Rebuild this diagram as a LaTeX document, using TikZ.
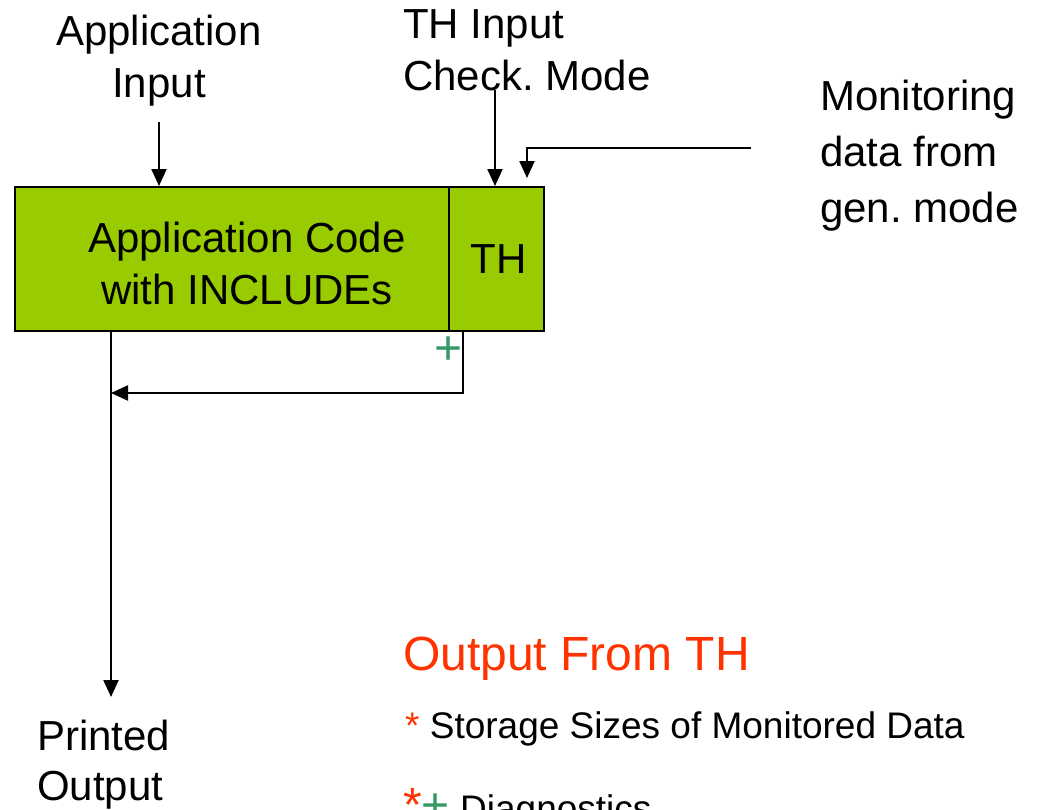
\documentclass[tikz,border=0pt]{standalone}
\usepackage{fontspec}
\setmainfont{Liberation Sans}
\usetikzlibrary{arrows.meta}
\frenchspacing
\definecolor{boxgreen}{HTML}{99CC00}
\definecolor{titlered}{HTML}{FF3300}
\definecolor{plusgreen}{HTML}{339966}
\tikzset{
  flow/.style={draw=black, line width=2.3pt, -{Triangle[length=17pt,width=15pt]}},
  block/.style={draw=black, fill=boxgreen, line width=2.3pt, inner sep=0pt, anchor=north west},
  lbl/.style={font=\fontsize{42}{52}\selectfont, inner sep=0pt, align=center},
  lbll/.style={font=\fontsize{42}{56}\selectfont, inner sep=0pt, align=left},
  note/.style={font=\fontsize{37}{44}\selectfont, inner sep=0pt, anchor=base west},
}
\begin{document}
\begin{tikzpicture}[x=1pt,y=-1pt]
\useasboundingbox (0,0) rectangle (1058,809);
\clip (0,0) rectangle (1058,809);
\fill[white] (0,0) rectangle (1058,809);

% main block and the TH part
\node[block, minimum width=434pt, minimum height=144pt] (app) at (14,186) {};
\node[block, minimum width=95pt, minimum height=144pt, font=\fontsize{42}{52}\selectfont] (th) at (448,186) {\hspace*{4pt}TH};
% multi-line nodes: the base anchor sits on the last line
\node[lbl, anchor=base] (appcode) at (247,304) {Application Code\\with INCLUDEs};

% input labels
\node[lbl, anchor=base] (ain) at (159,97) {Application\\Input};
\node[lbl, align=left, anchor=base west] (thin) at (403,90) {TH Input\\Check. Mode};
\node[lbll, anchor=base west] (mon) at (820,222) {Monitoring\\data from\\gen. mode};
\node[lbll, anchor=base west, font=\fontsize{42}{50}\selectfont] (pout) at (37,800) {Printed\\Output};

% connector end points
\coordinate (ainStart) at (159,122);
\coordinate (thinStart) at (495,90);
\coordinate (monStart) at (751,148);
\coordinate (monEnd) at (527,178);
\coordinate (outEnd) at (111,697);
\coordinate (fbStart) at (463,330);
\coordinate (fbEnd) at (111,393);

\draw[flow] (ainStart) -- (ainStart |- app.north);
\draw[flow] (thinStart) -- (thinStart |- th.north);
\draw[flow] (monStart) -| (monEnd);
\draw[flow] (outEnd |- app.south) -- (outEnd);
\draw[flow] (fbStart) |- (fbEnd);
\node[font=\fontsize{48}{48}\selectfont, text=plusgreen, inner sep=0pt] (plus) at (449,351) {+};

% legend
\node[font=\fontsize{48}{56}\selectfont, text=titlered, inner sep=0pt, anchor=base west] (otitle) at (403,670) {Output From TH};
\node[note] (n1) at (405,738) {\textcolor{titlered}{*} Storage Sizes of Monitored Data};
\node[note] (n2) at (403,821) {{\fontsize{48}{48}\selectfont\textcolor{titlered}{*}\textcolor{plusgreen}{+}} Diagnostics};
\end{tikzpicture}
\end{document}
